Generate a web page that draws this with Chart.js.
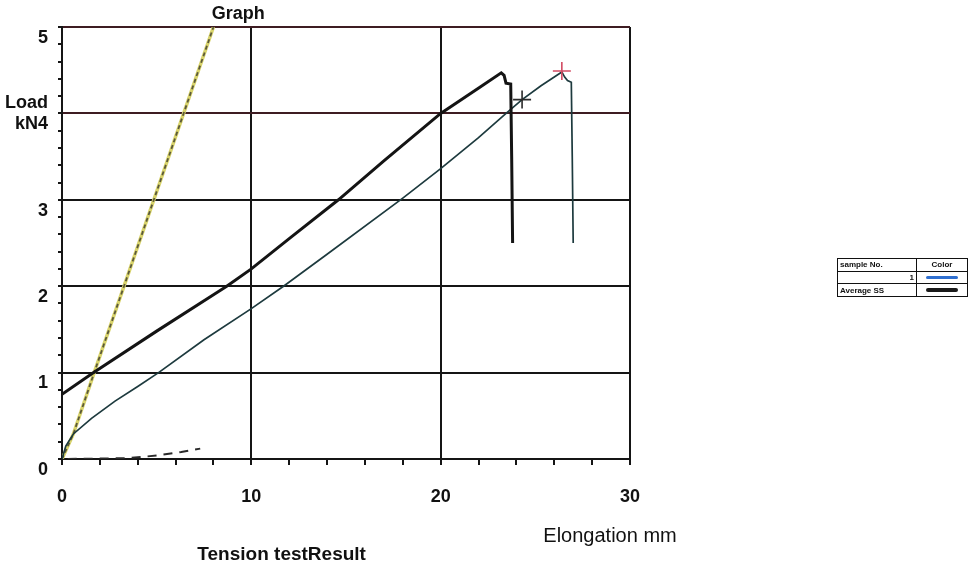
<!DOCTYPE html>
<html>
<head>
<meta charset="utf-8">
<script src="https://cdn.jsdelivr.net/npm/chart.js@4"></script>
<style>
  html, body { margin: 0; padding: 0; background: #ffffff; }
  #wrap { position: relative; width: 976px; height: 572px; overflow: hidden; }
  canvas { position: absolute; left: 0; top: 0; }
  table.leg {
    position: absolute; left: 837px; top: 258px; width: 131px; height: 39px;
    border-collapse: collapse; font-family: "Liberation Sans", Arial, sans-serif;
    font-weight: bold; font-size: 8px; color: #111;
  }
  table.leg td { border: 1.6px solid #111; padding: 0 2px; line-height: 9px; }
  .sw { display: block; margin: 0 auto; width: 32px; border-radius: 3px; }
</style>
</head>
<body>
<div id="wrap">
  <canvas id="c" width="976" height="572"></canvas>
  <table class="leg">
    <tr><td style="width:74px;text-align:left">sample No.</td><td style="text-align:center">Color</td></tr>
    <tr><td style="text-align:right">1</td><td><span class="sw" style="height:3px;background:#2f6fd0"></span></td></tr>
    <tr><td style="text-align:left">Average SS</td><td><span class="sw" style="height:4px;background:#1a1a1a"></span></td></tr>
  </table>
</div>
<script>
// ---- data ----
const xTickValues = [0, 10, 20, 30];
const yTickValues = [0, 1, 2, 3, 4, 5];

// Average SS (thick black)
const avgElong = [0, 1.67, 5, 8.0, 8.7, 10, 12, 14.6, 17, 20, 22.05, 23.2, 23.35, 23.45, 23.7, 23.75, 23.8];
const avgLoad  = [0.75, 1.0, 1.48, 1.9, 2.0, 2.2, 2.55, 3.0, 3.45, 4.0, 4.3, 4.47, 4.44, 4.35, 4.34, 3.5, 2.5];

// Sample 1 (thin line)
const s1Elong = [0, 0.2, 0.6, 1.56, 2.8, 4, 5.1, 7.5, 10, 11.7, 14, 18, 20, 22, 23.5, 24.3, 25.3, 26.4, 26.55, 26.7, 26.9, 26.95, 27.0];
const s1Load  = [0, 0.15, 0.29, 0.47, 0.67, 0.84, 1.0, 1.38, 1.74, 2.0, 2.37, 3.02, 3.36, 3.72, 4.01, 4.16, 4.32, 4.48, 4.42, 4.38, 4.36, 3.5, 2.5];

// Elastic (tangent) line
const tanElong = [0, 0.6, 1.7, 8.0];
const tanLoad  = [0, 0.29, 1.0, 5.0];

// Dashed line near the base
const baseElong = [0.3, 3.5, 5.0, 6.3, 7.3];
const baseLoad  = [0.0, 0.01, 0.04, 0.08, 0.12];

// Markers
const markElong1 = [24.3];
const markLoad1  = [4.16];
const markElong2 = [26.4];
const markLoad2  = [4.49];

const zip = (xs, ys) => xs.map((x, i) => ({ x: x, y: ys[i] }));
const isInt = v => Math.abs(v - Math.round(v)) < 1e-6;

const textPlugin = {
  id: 'texts',
  afterDraw(chart) {
    const ctx = chart.ctx;
    const xs = chart.scales.x;
    ctx.save();
    ctx.fillStyle = '#111';
    ctx.textAlign = 'center';
    ctx.textBaseline = 'alphabetic';
    ctx.font = 'bold 18px "Liberation Sans", Arial, sans-serif';
    ctx.fillText('Graph', xs.getPixelForValue(10) - 13, 19);
    ctx.font = '20px "Liberation Sans", Arial, sans-serif';
    ctx.fillText('Elongation mm', xs.getPixelForValue(30) - 20, 542);
    ctx.font = 'bold 19px "Liberation Sans", Arial, sans-serif';
    ctx.fillText('Tension testResult', xs.getPixelForValue(11.6), 560);
    ctx.restore();
  }
};

const gridCol = '#151515';
const redGrid = '#3e1c22';

new Chart(document.getElementById('c'), {
  type: 'scatter',
  data: {
    datasets: [
      { label: 'mark1', data: zip(markElong1, markLoad1), pointStyle: 'cross', pointRadius: 9, borderColor: '#2a2a2a', borderWidth: 1.6, backgroundColor: '#2a2a2a' },
      { label: 'mark2', data: zip(markElong2, markLoad2), pointStyle: 'cross', pointRadius: 9, borderColor: '#d24a62', borderWidth: 1.6, backgroundColor: '#d24a62' },
      { label: 'Average SS', data: zip(avgElong, avgLoad), showLine: true, borderColor: '#141414', borderWidth: 3, pointRadius: 0, tension: 0 },
      { label: '1', data: zip(s1Elong, s1Load), showLine: true, borderColor: '#1d3a3e', borderWidth: 1.7, pointRadius: 0, tension: 0 },
      { label: 'base', data: zip(baseElong, baseLoad), showLine: true, borderColor: '#2a2a2a', borderWidth: 2, borderDash: [9, 7], pointRadius: 0, tension: 0 },
      { label: 'tangent-dash', data: zip(tanElong, tanLoad), showLine: true, borderColor: '#5a583a', borderWidth: 1.8, borderDash: [4, 3], pointRadius: 0, tension: 0 },
      { label: 'tangent', data: zip(tanElong, tanLoad), showLine: true, borderColor: '#d9d46c', borderWidth: 3.5, pointRadius: 0, tension: 0 }
    ]
  },
  options: {
    responsive: false,
    animation: false,
    layout: { padding: { left: 0, top: 27, right: 346, bottom: 53 } },
    plugins: { legend: { display: false }, title: { display: false }, tooltip: { enabled: false } },
    scales: {
      x: {
        type: 'linear', min: 0, max: 30,
        afterFit: s => { s.height = 60; s.paddingLeft = 0; s.paddingRight = 0; },
        afterBuildTicks: s => { s.ticks = Array.from({ length: 16 }, (_, i) => ({ value: i * 2 })); },
        ticks: {
          autoSkip: false, maxRotation: 0, padding: 21, color: '#111',
          font: { family: '"Liberation Sans", Arial, sans-serif', size: 18, weight: 'bold' },
          callback: v => (xTickValues.includes(v) ? String(v) : '')
        },
        grid: {
          color: c => (c.tick && xTickValues.includes(c.tick.value) ? gridCol : 'rgba(0,0,0,0)'),
          lineWidth: 2, tickColor: gridCol, tickLength: 6, drawTicks: true
        },
        border: { display: true, color: gridCol, width: 2 }
      },
      y: {
        type: 'linear', min: 0, max: 5,
        afterFit: s => { s.width = 62; s.paddingTop = 0; s.paddingBottom = 0; },
        afterBuildTicks: s => { s.ticks = Array.from({ length: 26 }, (_, i) => ({ value: Math.round(i * 2) / 10 })); },
        ticks: {
          autoSkip: false, padding: 10, color: '#111',
          font: { family: '"Liberation Sans", Arial, sans-serif', size: 18, weight: 'bold' },
          callback: v => {
            if (!isInt(v)) return '';
            const n = Math.round(v);
            if (!yTickValues.includes(n)) return '';
            return n === 4 ? ['Load', 'kN4'] : ['', String(n)];
          }
        },
        grid: {
          color: c => {
            if (!c.tick || !isInt(c.tick.value)) return 'rgba(0,0,0,0)';
            const n = Math.round(c.tick.value);
            return (n === 4 || n === 5) ? redGrid : gridCol;
          },
          lineWidth: 2, tickColor: gridCol, tickLength: 4, drawTicks: true
        },
        border: { display: true, color: gridCol, width: 2 }
      }
    }
  },
  plugins: [textPlugin]
});
</script>
</body>
</html>
